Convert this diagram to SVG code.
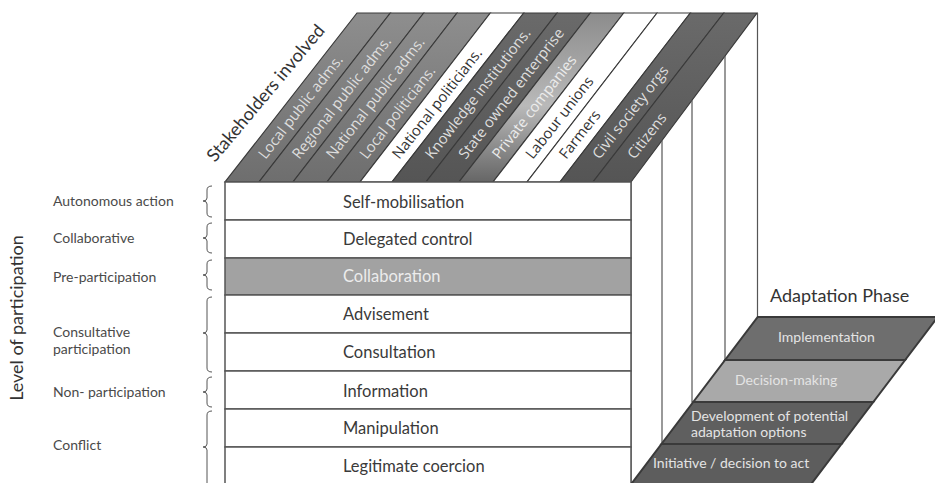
<svg xmlns="http://www.w3.org/2000/svg" width="935" height="483" viewBox="0 0 935 483">
<defs>
<linearGradient id="gGray" x1="0" y1="1" x2="0" y2="0"><stop offset="0" stop-color="#6e6e6e"/><stop offset="1" stop-color="#8e8e8e"/></linearGradient>
<linearGradient id="gDark" x1="0" y1="1" x2="0" y2="0"><stop offset="0" stop-color="#555"/><stop offset="1" stop-color="#6a6a6a"/></linearGradient>
<linearGradient id="gPriv" x1="0" y1="1" x2="0" y2="0"><stop offset="0" stop-color="#666"/><stop offset="0.45" stop-color="#b9b9b9"/><stop offset="1" stop-color="#8c8c8c"/></linearGradient>
</defs>
<style>
.lato{font-family:Lato,"Open Sans","Liberation Sans",sans-serif}
.stk{font-family:"Open Sans","Noto Sans","Liberation Sans",sans-serif;font-size:14.8px}
.lt{fill:#dedede}
.dk{fill:#333}
.stripe{stroke:#3a3a3a;stroke-width:1.2}
.row{fill:#fff;stroke:#555;stroke-width:1.5}
.rowt{font-size:16.5px;fill:#3a3a3a}
.lab{font-size:14px;fill:#4a4a4a}
.brace{fill:none;stroke:#555;stroke-width:1}
.vl{stroke:#555;stroke-width:1.2;fill:none}
.ph{stroke:#3a3a3a;stroke-width:2}
.pht{font-size:14px;fill:#e4e4e4}
</style>

<!-- top face stripes -->
<g id="stakeholders">
<g id="s0"><polygon class="stripe" fill="url(#gGray)" points="225,182 259,182 390.3,13 357,13"/><text class="stk lt" transform="translate(261.5,157) rotate(-52)" y="5">Local public adms.</text></g>
<g id="s1"><polygon class="stripe" fill="url(#gGray)" points="259,182 293,182 423.7,13 390.3,13"/><text class="stk lt" transform="translate(295.4,157) rotate(-52)" y="5">Regional public adms.</text></g>
<g id="s2"><polygon class="stripe" fill="url(#gGray)" points="293,182 327,182 457,13 423.7,13"/><text class="stk lt" transform="translate(329.3,157) rotate(-52)" y="5">National public adms.</text></g>
<g id="s3"><polygon class="stripe" fill="url(#gGray)" points="327,182 360,182 490.3,13 457,13"/><text class="stk lt" transform="translate(362.7,157) rotate(-52)" y="5">Local politicians.</text></g>
<g id="s4"><polygon class="stripe" fill="#fff" points="360,182 392,182 523.7,13 490.3,13"/><text class="stk dk" transform="translate(395.4,157) rotate(-52)" y="5">National politicians.</text></g>
<g id="s5"><polygon class="stripe" fill="url(#gDark)" points="392,182 426,182 557,13 523.7,13"/><text class="stk lt" transform="translate(428.4,157) rotate(-52)" y="5">Knowledge institutions.</text></g>
<g id="s6"><polygon class="stripe" fill="url(#gDark)" points="426,182 459,182 590.3,13 557,13"/><text class="stk lt" transform="translate(461.8,157) rotate(-52)" y="5">State owned enterprise</text></g>
<g id="s7"><polygon class="stripe" fill="url(#gPriv)" points="459,182 493,182 623.7,13 590.3,13"/><text class="stk" fill="#ececec" transform="translate(495.2,157) rotate(-52)" y="5">Private companies</text></g>
<g id="s8"><polygon class="stripe" fill="#fff" points="493,182 527,182 657,13 623.7,13"/><text class="stk dk" transform="translate(528.9,157) rotate(-52)" y="5">Labour unions</text></g>
<g id="s9"><polygon class="stripe" fill="#fff" points="527,182 560,182 690.3,13 657,13"/><text class="stk dk" transform="translate(562.3,157) rotate(-52)" y="5">Farmers</text></g>
<g id="s10"><polygon class="stripe" fill="url(#gDark)" points="560,182 593,182 723.7,13 690.3,13"/><text class="stk lt" transform="translate(595.6,157) rotate(-52)" y="5">Civil society orgs</text></g>
<g id="s11"><polygon class="stripe" fill="url(#gDark)" points="593,182 631,182 757,13 723.7,13"/><text class="stk lt" transform="translate(630.5,157) rotate(-52)" y="5">Citizens</text></g>
</g>
<text id="stakeholders-title" class="lato" font-size="18" fill="#333" transform="translate(215,163) rotate(-50)">Stakeholders involved</text>

<!-- right face lines -->
<g id="connectors">
<line class="vl" x1="631" y1="182" x2="631" y2="483"/>
<line class="vl" x1="662" y1="140.4" x2="662" y2="444"/>
<line class="vl" x1="692" y1="100.2" x2="692" y2="402"/>
<line class="vl" x1="725" y1="55.9" x2="725" y2="360"/>
<line class="vl" x1="757.5" y1="13" x2="757.5" y2="317"/>
</g>

<!-- front face rows -->
<g id="rows">
<g id="r1"><rect class="row" x="225" y="182" width="406" height="38"/><text class="lato rowt" x="343" y="208">Self-mobilisation</text></g>
<g id="r2"><rect class="row" x="225" y="220" width="406" height="38"/><text class="lato rowt" x="343" y="245">Delegated control</text></g>
<g id="r3"><rect class="row" x="225" y="258" width="406" height="37" style="fill:#a2a2a2"/><text class="lato rowt" x="343" y="282" style="fill:#ececec">Collaboration</text></g>
<g id="r4"><rect class="row" x="225" y="295" width="406" height="38"/><text class="lato rowt" x="343" y="320">Advisement</text></g>
<g id="r5"><rect class="row" x="225" y="333" width="406" height="38"/><text class="lato rowt" x="343" y="358">Consultation</text></g>
<g id="r6"><rect class="row" x="225" y="371" width="406" height="38"/><text class="lato rowt" x="343" y="397">Information</text></g>
<g id="r7"><rect class="row" x="225" y="409" width="406" height="38"/><text class="lato rowt" x="343" y="434">Manipulation</text></g>
<g id="r8"><rect class="row" x="225" y="447" width="406" height="45"/><text class="lato rowt" x="343" y="472">Legitimate coercion</text></g>
</g>

<!-- left labels & braces -->
<text id="axis-y" class="lato" font-size="18" fill="#333" text-anchor="middle" transform="translate(23,318) rotate(-90)">Level of participation</text>
<g id="l1"><text class="lato lab" x="53" y="206">Autonomous action</text><path class="brace" d="M212,186 Q207,186 207,190 L207,198 Q207,201 203,201 Q207,201 207,204 L207,213 Q207,217 212,217"/></g>
<g id="l2"><text class="lato lab" x="53" y="243">Collaborative</text><path class="brace" d="M212,223 Q207,223 207,227 L207,235 Q207,238 203,238 Q207,238 207,241 L207,249 Q207,253 212,253"/></g>
<g id="l3"><text class="lato lab" x="53" y="282">Pre-participation</text><path class="brace" d="M212,260 Q207,260 207,264 L207,272 Q207,275 203,275 Q207,275 207,278 L207,286 Q207,290 212,290"/></g>
<g id="l4"><text class="lato lab" x="53" y="337">Consultative</text><text class="lato lab" x="53" y="354">participation</text><path class="brace" d="M212,297 Q207,297 207,301 L207,330 Q207,333 203,333 Q207,333 207,336 L207,368 Q207,372 212,372"/></g>
<g id="l5"><text class="lato lab" x="53" y="397">Non- participation</text><path class="brace" d="M212,377 Q207,377 207,381 L207,389 Q207,392 203,392 Q207,392 207,395 L207,403 Q207,407 212,407"/></g>
<g id="l6"><text class="lato lab" x="53" y="450">Conflict</text><path class="brace" d="M212,411 Q207,411 207,415 L207,444 Q207,447 203,447 Q207,447 207,450 L207,490"/></g>

<!-- adaptation phase -->
<text id="phase-title" class="lato" font-size="18" fill="#333" x="770" y="302">Adaptation Phase</text>
<g id="phases">
<g id="p4"><polygon class="ph" fill="#6e6e6e" points="757.7,317 937.7,317 905.1,360 725.1,360"/><text class="lato pht" x="778" y="342">Implementation</text></g>
<g id="p3"><polygon class="ph" fill="#a9a9a9" points="725.1,360 905.1,360 873.3,402 693.3,402"/><text class="lato pht" x="735" y="385">Decision-making</text></g>
<g id="p2"><polygon class="ph" fill="#5f5f5f" points="693.3,402 873.3,402 841.5,444 661.5,444"/><text class="lato pht" x="691" y="421">Development of potential</text><text class="lato pht" x="691" y="437">adaptation options</text></g>
<g id="p1"><polygon class="ph" fill="#5d5d5d" points="661.5,444 841.5,444 806.7,490 626.7,490"/><text class="lato pht" x="653" y="468">Initiative / decision to act</text></g>
</g>
</svg>
